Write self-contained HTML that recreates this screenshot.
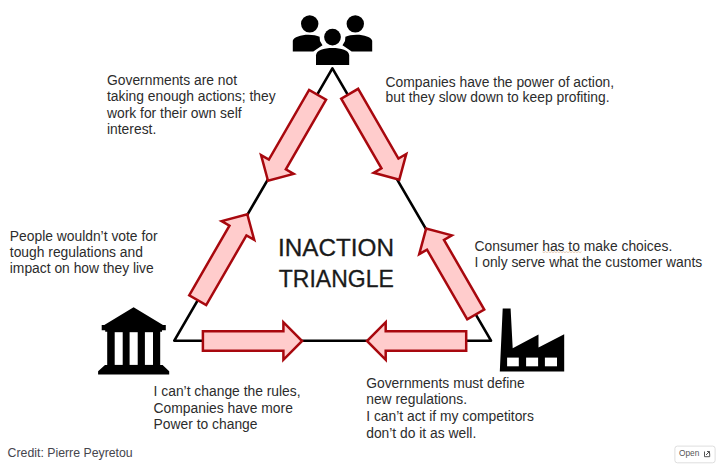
<!DOCTYPE html>
<html><head><meta charset="utf-8">
<style>
html,body{margin:0;padding:0;background:#fff;width:720px;height:466px;overflow:hidden}
svg{position:absolute;left:0;top:0;display:block}
text{font-family:"Liberation Sans",sans-serif}
.t{font-size:13.85px;fill:#2c2c2c}
</style></head><body>
<svg width="720" height="466" viewBox="0 0 720 466">
<defs>
<path id="ar" d="M0,-9.8 L80.5,-9.8 L80.5,-18.8 L99.2,0 L80.5,18.8 L80.5,9.8 L0,9.8 Z"/>
</defs>
<!-- triangle -->
<polygon points="332.4,68.3 174.3,340.7 491,340.7" fill="none" stroke="#000" stroke-width="2.6" stroke-linejoin="round"/>
<!-- arrows -->
<g fill="#ffcccc" stroke="#a8080e" stroke-width="2.5" stroke-linejoin="miter">
<use href="#ar" transform="translate(317.6,94.8) rotate(120)"/>
<use href="#ar" transform="translate(349.7,93.7) rotate(60)"/>
<use href="#ar" transform="translate(197.7,300.2) rotate(-60)"/>
<use href="#ar" transform="translate(475.75,314.5) rotate(-120)"/>
<use href="#ar" transform="translate(202.9,341)"/>
<use href="#ar" transform="translate(466.2,341) rotate(180)"/>
</g>
<!-- people icon -->
<g fill="#000">
<circle cx="309.7" cy="23.85" r="8.7"/>
<circle cx="355.3" cy="23.85" r="8.7"/>
<path d="M292.8,51.4 L292.8,40.8 C293.5,37 301,34.7 308.3,34.7 C313,34.7 317,35.5 319.6,36.7 L320,41.1 L322.5,45.3 L313.3,51.4 Z"/>
<path d="M372.2,51.4 L372.2,40.8 C371.5,37 364,34.7 356.7,34.7 C352,34.7 348,35.5 345.4,36.7 L345,41.1 L342.5,45.3 L351.7,51.4 Z"/>
<circle cx="332.5" cy="37.1" r="8.4"/>
<path d="M316,65 L316,55.5 C316,50 324,47.9 332.5,47.9 C341,47.9 349.2,50 349.2,55.5 L349.2,65 Z"/>
</g>
<!-- bank icon -->
<g fill="#000">
<polygon points="133.6,307.2 163,324.9 165.8,324.9 165.8,330.2 162,330.2 162,331.7 160.2,331.7 160.2,364.9 162.6,364.9 169.2,371.2 169.2,374.6 98.1,374.6 98.1,371.2 105,364.9 107.2,364.9 107.2,331.7 105.2,331.7 105.2,330.2 101.7,330.2 101.7,324.9 104.3,324.9"/>
</g>
<g fill="#fff">
<rect x="114.7" y="332.2" width="8" height="32.7"/>
<rect x="129.6" y="332.2" width="8.1" height="32.7"/>
<rect x="144.9" y="332.2" width="8.1" height="32.7"/>
</g>
<!-- factory icon -->
<path fill="#000" d="M499.8,371.6 L502.7,308.4 L510.6,308.4 L512.7,348.3 L538.5,334.6 L538.5,347.5 L564.2,334.3 L564.2,371.6 Z"/>
<g fill="#fff">
<rect x="507.1" y="357.6" width="11.7" height="8.7"/>
<rect x="526.1" y="357.6" width="12" height="8.7"/>
<rect x="544.9" y="357.6" width="12.1" height="8.7"/>
</g>
<!-- texts -->
<g class="t">
<text x="107" y="84.7">Governments are not</text>
<text x="107" y="100.9">taking enough actions; they</text>
<text x="107" y="117.8">work for their own self</text>
<text x="107" y="134.1">interest.</text>

<text x="385.6" y="86.7">Companies have the power of action,</text>
<text x="385.6" y="102.3">but they slow down to keep profiting.</text>

<text x="9.8" y="240.5">People wouldn’t vote for</text>
<text x="9.8" y="256.5">tough regulations and</text>
<text x="9.8" y="273">impact on how they live</text>

<text x="474.5" y="250.6">Consumer has to make choices.</text>
<text x="474.5" y="267.2">I only serve what the customer wants</text>

<text x="153.6" y="396.3">I can’t change the rules,</text>
<text x="153.6" y="412.8">Companies have more</text>
<text x="153.6" y="428.8">Power to change</text>

<text x="366.2" y="388.2">Governments must define</text>
<text x="366.2" y="404.2">new regulations.</text>
<text x="366.2" y="421.2">I can’t act if my competitors</text>
<text x="366.2" y="438.4">don’t do it as well.</text>
</g>
<text x="278" y="255.9" font-size="23.8" fill="#1a1a1a" stroke="#1a1a1a" stroke-width="0.3" textLength="116" lengthAdjust="spacingAndGlyphs">INACTION</text>
<text x="278.8" y="286.9" font-size="23.8" fill="#1a1a1a" stroke="#1a1a1a" stroke-width="0.3" textLength="115" lengthAdjust="spacingAndGlyphs">TRIANGLE</text>
<text x="7.6" y="456.8" font-size="12.3" fill="#45454d">Credit: Pierre Peyretou</text>
<path d="M542.5,252 L544.0,252.6 L545.5,251.7 L547.0,252.6 L548.5,251.7 L550.0,252.6 L551.5,251.7 L553.0,252.6 L554.5,251.7 L556.0,252.6 L557.5,251.7 L559.0,252.6 L560.5,251.7 L562.0,252.6 L563.5,251.7 L565.0,252.6 L566.5,251.7 L568.0,252.6 L569.5,251.7 L571.0,252.6 L572.5,251.7 L574.0,252.6 L575.5,251.7 L577.0,252.6 L578.5,251.7 L580.0,252.6 L581.5,251.7" fill="none" stroke="#c89060" stroke-width="0.8" opacity="0.55"/>
<!-- open button -->
<rect x="674.9" y="446.1" width="40.2" height="16.7" rx="2.5" fill="#fff" stroke="#dedede" stroke-width="1"/>
<text x="679" y="456.1" font-size="8.3" fill="#555">Open</text>
<g fill="none" stroke="#555" stroke-width="1">
<path d="M704.5,451.5 L704.5,456.7 L709.7,456.7 L709.7,453.5"/>
<path d="M706,455 L709.5,451.5 M707,451.5 L709.5,451.5 L709.5,454"/>
</g>
</svg>
</body></html>
